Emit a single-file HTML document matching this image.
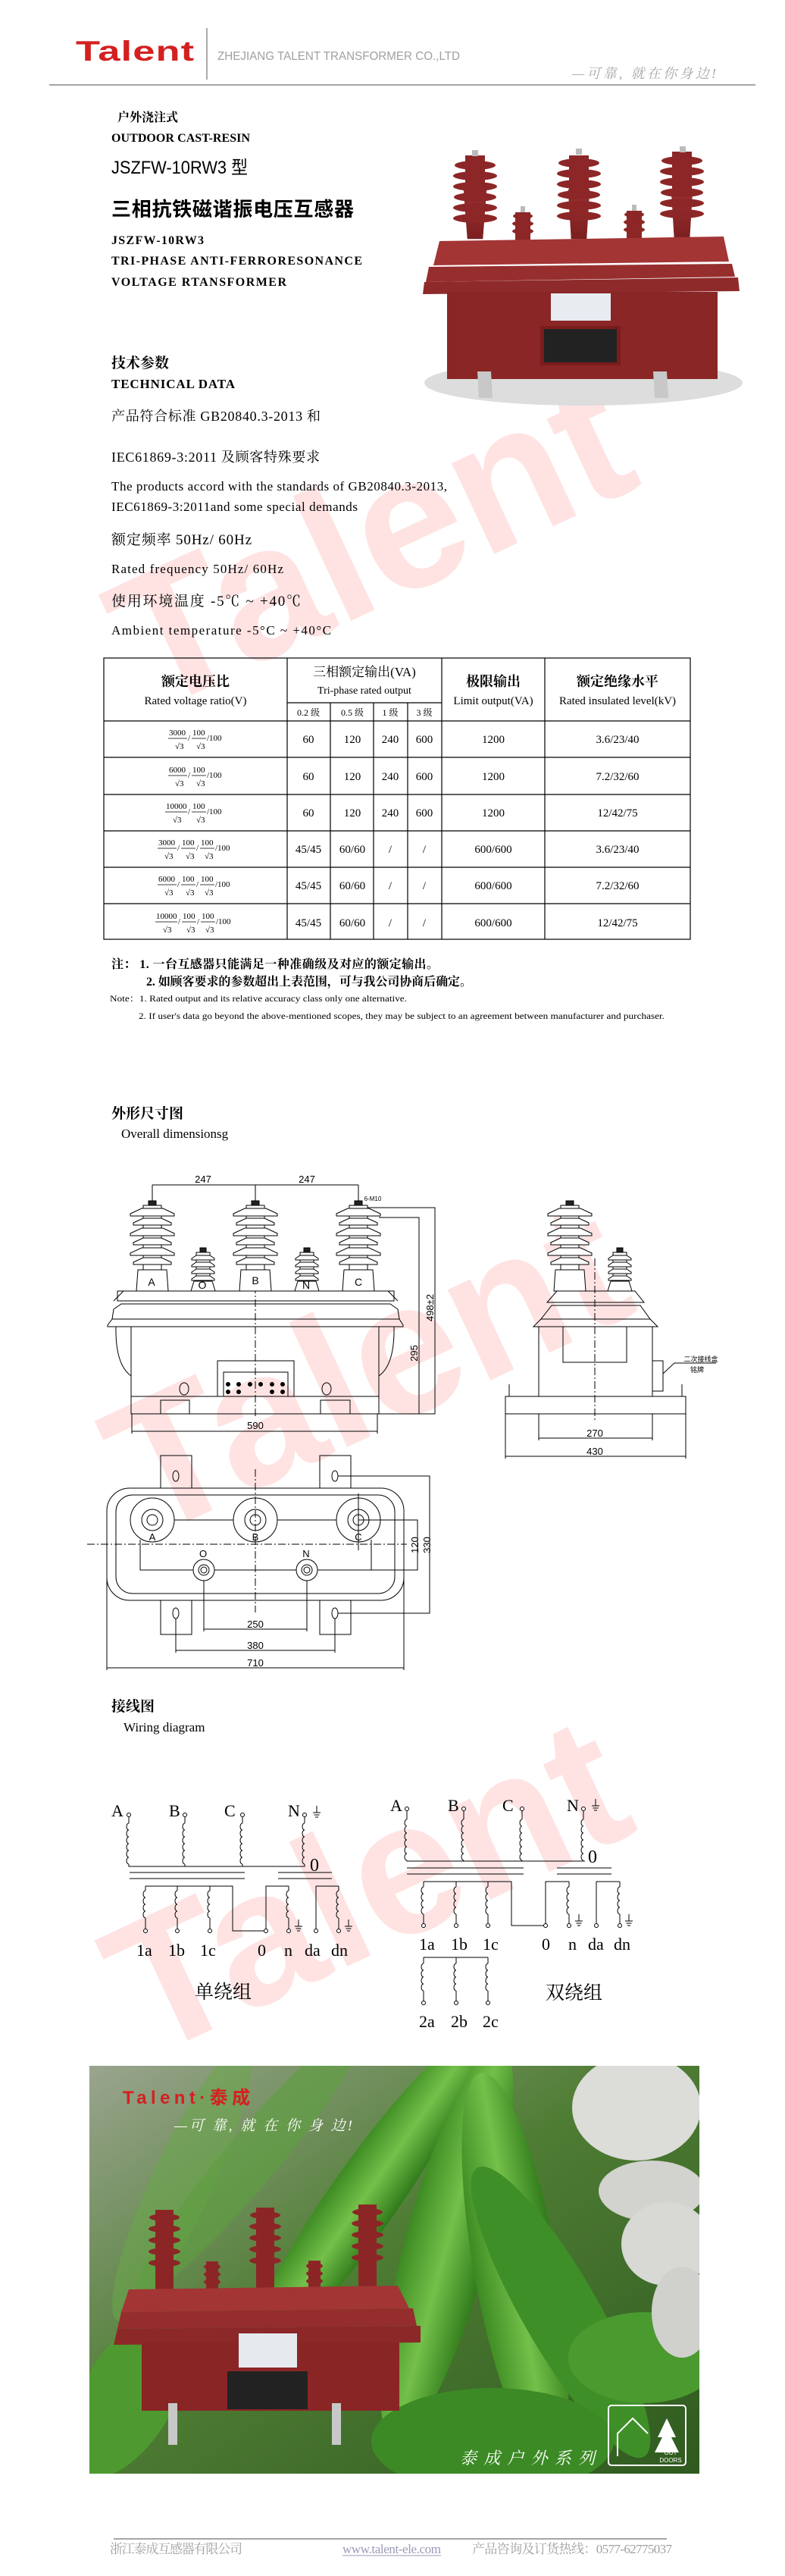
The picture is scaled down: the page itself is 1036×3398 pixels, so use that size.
<!DOCTYPE html>
<html><head><meta charset="utf-8"><style>
html,body{margin:0;padding:0;background:#fff;}
body{width:1036px;height:3398px;position:relative;overflow:hidden;}
svg{position:absolute;left:0;top:0;}
</style></head><body>
<svg width="1036" height="3398" viewBox="0 0 1036 3398" xmlns="http://www.w3.org/2000/svg" font-family="Liberation Serif, Noto Serif CJK SC, serif">
<defs>
  <g id="tins" fill="#fff" stroke="#000" stroke-width="1">
    <rect x="-5" y="-6" width="10" height="6" fill="#222"/>
    <rect x="-12" y="0" width="24" height="85"/>
    <polygon points="-14,4 14,4 29,11 29,14 -29,14 -29,11"/>
    <polygon points="-12,17 12,17 25,23 25,26 -25,26 -25,23"/>
    <polygon points="-14,30 14,30 29,37 29,40 -29,40 -29,37"/>
    <polygon points="-12,43 12,43 25,49 25,52 -25,52 -25,49"/>
    <polygon points="-14,56 14,56 29,63 29,66 -29,66 -29,63"/>
    <polygon points="-12,69 12,69 25,75 25,78 -25,78 -25,75"/>
    <polygon points="-19,85 19,85 21,113 -21,113"/>
  </g>
  <g id="sins" fill="#fff" stroke="#000" stroke-width="1">
    <rect x="-4" y="-6" width="8" height="6" fill="#222"/>
    <rect x="-9" y="0" width="18" height="38"/>
    <polygon points="-9,4 9,4 15,8 15,10 -15,10 -15,8"/>
    <polygon points="-9,13 9,13 15,17 15,19 -15,19 -15,17"/>
    <polygon points="-9,22 9,22 15,26 15,28 -15,28 -15,26"/>
    <polygon points="-9,31 9,31 15,35 15,37 -15,37 -15,35"/>
    <polygon points="-12,38 12,38 16,51 -16,51"/>
  </g>
  <path id="coil6" fill="none" stroke="#000" stroke-width="1" d="M0,0 a3,4.5 0 0 0 0,9 a3,4.5 0 0 0 0,9 a3,4.5 0 0 0 0,9 a3,4.5 0 0 0 0,9 a3,4.5 0 0 0 0,9 a3,4.5 0 0 0 0,9"/>
  <path id="coil4" fill="none" stroke="#000" stroke-width="1" d="M0,0 a3,4.5 0 0 0 0,9 a3,4.5 0 0 0 0,9 a3,4.5 0 0 0 0,9 a3,4.5 0 0 0 0,9"/>
  <g id="gnd" stroke="#000" stroke-width="1"><line x1="0" y1="0" x2="0" y2="9"/><line x1="-5" y1="9" x2="5" y2="9"/><line x1="-3.5" y1="12" x2="3.5" y2="12"/><line x1="-2" y1="15" x2="2" y2="15"/></g>
  <linearGradient id="pg" x1="0" y1="0" x2="1" y2="1">
    <stop offset="0" stop-color="#9aa58e"/><stop offset=".45" stop-color="#4f7d34"/><stop offset="1" stop-color="#2f5a1f"/>
  </linearGradient>
  <linearGradient id="leaf" x1="0" y1="0" x2="1" y2="0">
    <stop offset="0" stop-color="#3c8a22"/><stop offset=".5" stop-color="#74c04a"/><stop offset="1" stop-color="#2f7a1a"/>
  </linearGradient>
  <linearGradient id="red" x1="0" y1="0" x2="0" y2="1">
    <stop offset="0" stop-color="#9a3030"/><stop offset="1" stop-color="#7c1f1f"/>
  </linearGradient>
  <clipPath id="pc"><rect x="118" y="2725" width="805" height="538"/></clipPath>
</defs>

<!-- watermarks -->
<g fill="#ffe3e3" font-family="Liberation Sans, sans-serif" font-weight="bold" font-size="250" text-anchor="middle">
  <text transform="translate(525,790) rotate(-25)">Talent</text>
  <text transform="translate(520,1880) rotate(-25)">Talent</text>
  <text transform="translate(520,2565) rotate(-25)">Talent</text>
</g>

<!-- header -->
<text x="100" y="80" fill="#d42020" font-family="Liberation Sans, sans-serif" font-weight="bold" font-size="37" transform="translate(100,0) scale(1.42,1) translate(-100,0)" textLength="110">Talent</text>
<line x1="273" y1="37" x2="273" y2="105" stroke="#555" stroke-width="1"/>
<text x="287" y="79" fill="#a0a0a0" font-family="Liberation Sans, sans-serif" font-size="16" textLength="320" lengthAdjust="spacingAndGlyphs">ZHEJIANG TALENT TRANSFORMER CO.,LTD</text>
<text x="755" y="103" fill="#a8a8a8" font-family="Liberation Serif, Noto Serif CJK SC, serif" font-style="italic" font-size="18" textLength="190">—可靠, 就在你身边!</text>
<line x1="65" y1="112" x2="997" y2="112" stroke="#888" stroke-width="1.5"/>

<!-- intro texts -->
<g fill="#000">
<text x="155" y="160" font-size="16" font-weight="bold">户外浇注式</text>
<text x="147" y="187" font-size="16" font-weight="bold" textLength="183">OUTDOOR CAST-RESIN</text>
<text x="147" y="229" font-size="24" font-family="Liberation Sans, Noto Sans CJK SC, sans-serif" textLength="180" lengthAdjust="spacingAndGlyphs">JSZFW-10RW3 型</text>
<text x="147" y="285" font-size="26" font-weight="bold" font-family="Liberation Sans, Noto Sans CJK SC, sans-serif" textLength="320">三相抗铁磁谐振电压互感器</text>
<text x="147" y="322" font-size="16" font-weight="bold" textLength="122">JSZFW-10RW3</text>
<text x="147" y="349" font-size="16" font-weight="bold" textLength="331">TRI-PHASE ANTI-FERRORESONANCE</text>
<text x="147" y="377" font-size="16" font-weight="bold" textLength="231">VOLTAGE RTANSFORMER</text>
<text x="147" y="485" font-size="19" font-weight="bold">技术参数</text>
<text x="147" y="512" font-size="17" font-weight="bold" textLength="163">TECHNICAL DATA</text>
<text x="147" y="555" font-size="18" textLength="276">产品符合标准 GB20840.3-2013 和</text>
<text x="147" y="609" font-size="18" textLength="275">IEC61869-3:2011 及顾客特殊要求</text>
<text x="147" y="647" font-size="17" textLength="443">The products accord with the standards of GB20840.3-2013,</text>
<text x="147" y="674" font-size="17" textLength="325">IEC61869-3:2011and some special demands</text>
<text x="147" y="718" font-size="19" textLength="185">额定频率 50Hz/ 60Hz</text>
<text x="147" y="756" font-size="17" textLength="227">Rated frequency    50Hz/ 60Hz</text>
<text x="147" y="799" font-size="19" textLength="250">使用环境温度 -5℃ ~  +40℃</text>
<text x="147" y="837" font-size="17" textLength="290">Ambient temperature    -5°C  ~  +40°C</text>
</g>

<!-- top product image -->
<g>
  <ellipse cx="770" cy="505" rx="210" ry="30" fill="#ddd"/>
  <g fill="url(#red)" stroke="#6a1818" stroke-width="0.5">
    <polygon points="617,315 612,250 642,250 637,315"/>
    <polygon points="754,315 750,250 778,250 774,315"/>
    <polygon points="890,315 886,250 914,250 910,315"/>
  </g>
  <g fill="#8d2727">
    <rect x="614" y="205" width="26" height="50"/><rect x="751" y="205" width="26" height="50"/><rect x="887" y="200" width="26" height="55"/>
    <ellipse cx="627" cy="218" rx="27" ry="6"/><ellipse cx="627" cy="232" rx="29" ry="6"/><ellipse cx="627" cy="246" rx="29" ry="6"/><ellipse cx="627" cy="260" rx="28" ry="6"/><ellipse cx="627" cy="274" rx="29" ry="6"/><ellipse cx="627" cy="288" rx="29" ry="6"/>
    <ellipse cx="764" cy="215" rx="27" ry="6"/><ellipse cx="764" cy="229" rx="29" ry="6"/><ellipse cx="764" cy="243" rx="29" ry="6"/><ellipse cx="764" cy="257" rx="28" ry="6"/><ellipse cx="764" cy="271" rx="29" ry="6"/><ellipse cx="764" cy="285" rx="29" ry="6"/>
    <ellipse cx="900" cy="212" rx="27" ry="6"/><ellipse cx="900" cy="226" rx="29" ry="6"/><ellipse cx="900" cy="240" rx="29" ry="6"/><ellipse cx="900" cy="254" rx="28" ry="6"/><ellipse cx="900" cy="268" rx="29" ry="6"/><ellipse cx="900" cy="282" rx="29" ry="6"/>
    <rect x="680" y="280" width="20" height="50"/><ellipse cx="690" cy="285" rx="13" ry="4"/><ellipse cx="690" cy="295" rx="14" ry="4"/><ellipse cx="690" cy="305" rx="14" ry="4"/>
    <rect x="827" y="278" width="20" height="52"/><ellipse cx="837" cy="283" rx="13" ry="4"/><ellipse cx="837" cy="293" rx="14" ry="4"/><ellipse cx="837" cy="303" rx="14" ry="4"/>
  </g>
  <g fill="#bbb"><rect x="623" y="198" width="8" height="8"/><rect x="760" y="196" width="8" height="8"/><rect x="897" y="193" width="8" height="8"/><rect x="687" y="272" width="6" height="8"/><rect x="834" y="270" width="6" height="8"/></g>
  <polygon points="580,318 955,312 962,345 572,350" fill="#a33535"/>
  <polygon points="566,352 966,348 970,365 562,372" fill="#972e2e"/>
  <polygon points="560,372 974,366 976,384 558,388" fill="#8f2a2a"/>
  <rect x="590" y="385" width="357" height="115" fill="#8a2626"/>
  <rect x="727" y="387" width="79" height="36" fill="#e8ecf0"/>
  <rect x="713" y="430" width="106" height="52" fill="#7a1c1c"/>
  <rect x="718" y="434" width="96" height="44" fill="#222"/>
  <g fill="#c8c8c8"><polygon points="630,490 648,490 650,525 632,525"/><polygon points="862,490 880,490 882,525 864,525"/></g>
</g>

<!-- table -->
<g stroke="#000" stroke-width="1.2" fill="none">
  <rect x="137" y="868" width="774" height="371"/>
  <line x1="379" y1="868" x2="379" y2="1239"/>
  <line x1="583" y1="868" x2="583" y2="1239"/>
  <line x1="719" y1="868" x2="719" y2="1239"/>
  <line x1="379" y1="927" x2="583" y2="927"/>
  <line x1="436" y1="927" x2="436" y2="1239"/>
  <line x1="493" y1="927" x2="493" y2="1239"/>
  <line x1="538" y1="927" x2="538" y2="1239"/>
  <line x1="137" y1="951" x2="911" y2="951"/>
  <line x1="137" y1="999" x2="911" y2="999"/>
  <line x1="137" y1="1048" x2="911" y2="1048"/>
  <line x1="137" y1="1096" x2="911" y2="1096"/>
  <line x1="137" y1="1144" x2="911" y2="1144"/>
  <line x1="137" y1="1192" x2="911" y2="1192"/>
</g>
<g fill="#000" text-anchor="middle">
  <text x="258" y="905" font-size="18" font-weight="bold">额定电压比</text>
  <text x="258" y="929" font-size="15">Rated voltage ratio(V)</text>
  <text x="481" y="892" font-size="17">三相额定输出(VA)</text>
  <text x="481" y="915" font-size="14">Tri-phase rated output</text>
  <text x="651" y="905" font-size="18" font-weight="bold">极限输出</text>
  <text x="651" y="929" font-size="15">Limit output(VA)</text>
  <text x="815" y="905" font-size="18" font-weight="bold">额定绝缘水平</text>
  <text x="815" y="929" font-size="15">Rated insulated level(kV)</text>
  <g font-size="12"><text x="407" y="944">0.2 级</text><text x="465" y="944">0.5 级</text><text x="515" y="944">1 级</text><text x="560" y="944">3 级</text></g>
  <g font-size="15">
    <text x="407" y="980">60</text><text x="465" y="980">120</text><text x="515" y="980">240</text><text x="560" y="980">600</text><text x="651" y="980">1200</text><text x="815" y="980">3.6/23/40</text>
    <text x="407" y="1029">60</text><text x="465" y="1029">120</text><text x="515" y="1029">240</text><text x="560" y="1029">600</text><text x="651" y="1029">1200</text><text x="815" y="1029">7.2/32/60</text>
    <text x="407" y="1077">60</text><text x="465" y="1077">120</text><text x="515" y="1077">240</text><text x="560" y="1077">600</text><text x="651" y="1077">1200</text><text x="815" y="1077">12/42/75</text>
    <text x="407" y="1125">45/45</text><text x="465" y="1125">60/60</text><text x="515" y="1125">/</text><text x="560" y="1125">/</text><text x="651" y="1125">600/600</text><text x="815" y="1125">3.6/23/40</text>
    <text x="407" y="1173">45/45</text><text x="465" y="1173">60/60</text><text x="515" y="1173">/</text><text x="560" y="1173">/</text><text x="651" y="1173">600/600</text><text x="815" y="1173">7.2/32/60</text>
    <text x="407" y="1222">45/45</text><text x="465" y="1222">60/60</text><text x="515" y="1222">/</text><text x="560" y="1222">/</text><text x="651" y="1222">600/600</text><text x="815" y="1222">12/42/75</text>
  </g>
</g>
<!-- fractions -->
<g font-size="11" fill="#000" stroke-width="0.8">
  <g transform="translate(0,0)">
    <text x="223" y="970">3000</text><text x="231" y="988">√3</text><line x1="222" y1="974" x2="247" y2="974" stroke="#000"/><text x="248" y="977">/</text>
    <text x="254" y="970">100</text><text x="259" y="988">√3</text><line x1="253" y1="974" x2="272" y2="974" stroke="#000"/><text x="273" y="977">/100</text>
  </g>
  <g transform="translate(0,49)">
    <text x="223" y="970">6000</text><text x="231" y="988">√3</text><line x1="222" y1="974" x2="247" y2="974" stroke="#000"/><text x="248" y="977">/</text>
    <text x="254" y="970">100</text><text x="259" y="988">√3</text><line x1="253" y1="974" x2="272" y2="974" stroke="#000"/><text x="273" y="977">/100</text>
  </g>
  <g transform="translate(-3,97)">
    <text x="222" y="970">10000</text><text x="231" y="988">√3</text><line x1="221" y1="974" x2="250" y2="974" stroke="#000"/><text x="251" y="977">/</text>
    <text x="257" y="970">100</text><text x="262" y="988">√3</text><line x1="256" y1="974" x2="275" y2="974" stroke="#000"/><text x="276" y="977">/100</text>
  </g>
  <g transform="translate(-14,145)">
    <text x="223" y="970">3000</text><text x="231" y="988">√3</text><line x1="222" y1="974" x2="247" y2="974" stroke="#000"/><text x="248" y="977">/</text>
    <text x="254" y="970">100</text><text x="259" y="988">√3</text><line x1="253" y1="974" x2="272" y2="974" stroke="#000"/><text x="273" y="977">/</text>
    <text x="279" y="970">100</text><text x="284" y="988">√3</text><line x1="278" y1="974" x2="297" y2="974" stroke="#000"/><text x="298" y="977">/100</text>
  </g>
  <g transform="translate(-14,193)">
    <text x="223" y="970">6000</text><text x="231" y="988">√3</text><line x1="222" y1="974" x2="247" y2="974" stroke="#000"/><text x="248" y="977">/</text>
    <text x="254" y="970">100</text><text x="259" y="988">√3</text><line x1="253" y1="974" x2="272" y2="974" stroke="#000"/><text x="273" y="977">/</text>
    <text x="279" y="970">100</text><text x="284" y="988">√3</text><line x1="278" y1="974" x2="297" y2="974" stroke="#000"/><text x="298" y="977">/100</text>
  </g>
  <g transform="translate(-16,242)">
    <text x="222" y="970">10000</text><text x="231" y="988">√3</text><line x1="221" y1="974" x2="250" y2="974" stroke="#000"/><text x="251" y="977">/</text>
    <text x="257" y="970">100</text><text x="262" y="988">√3</text><line x1="256" y1="974" x2="275" y2="974" stroke="#000"/><text x="276" y="977">/</text>
    <text x="282" y="970">100</text><text x="287" y="988">√3</text><line x1="281" y1="974" x2="300" y2="974" stroke="#000"/><text x="301" y="977">/100</text>
  </g>
</g>

<!-- notes -->
<g fill="#000">
<text x="147" y="1277" font-size="16" font-weight="bold" textLength="432">注：  1. 一台互感器只能满足一种准确级及对应的额定输出。</text>
<text x="193" y="1300" font-size="16" font-weight="bold" textLength="430">2. 如顾客要求的参数超出上表范围，可与我公司协商后确定。</text>
<text x="145" y="1321" font-size="12" textLength="392" lengthAdjust="spacingAndGlyphs">Note：1. Rated output and its relative accuracy class only one alternative.</text>
<text x="183" y="1344" font-size="12" textLength="694" lengthAdjust="spacingAndGlyphs">2. If user's data go beyond the above-mentioned scopes, they may be subject to an agreement between manufacturer and purchaser.</text>
<text x="147" y="1475" font-size="19" font-weight="bold">外形尺寸图</text>
<text x="160" y="1501" font-size="17">Overall dimensionsg</text>
<text x="147" y="2257" font-size="19" font-weight="bold">接线图</text>
<text x="163" y="2284" font-size="17">Wiring diagram</text>
</g>

<!-- front view drawing -->
<g stroke="#000" stroke-width="1" fill="none">
  <line x1="201" y1="1563" x2="473" y2="1563"/>
  <line x1="201" y1="1563" x2="201" y2="1584"/><line x1="337" y1="1563" x2="337" y2="1584"/><line x1="473" y1="1563" x2="473" y2="1584"/>
  <path d="M155,1703 L520,1703 L520,1716 L155,1716 Z"/>
  <path d="M163,1703 L150,1716 M512,1703 L525,1716"/>
  <path d="M160,1720 L515,1720 L525,1727 L527,1740 L148,1740 L150,1727 Z"/>
  <path d="M148,1740 L527,1740 L532,1748 L532,1750 L142,1750 L142,1748 Z"/>
  <rect x="173" y="1750" width="327" height="92"/>
  <path d="M153,1750 Q152,1800 173,1815 M520,1750 Q521,1800 500,1815"/>
  <rect x="287" y="1795" width="101" height="47"/>
  <rect x="295" y="1810" width="85" height="32"/>
  <g fill="#000"><circle cx="301" cy="1826" r="2.5"/><circle cx="315" cy="1826" r="2.5"/><circle cx="330" cy="1826" r="2.5"/><circle cx="344" cy="1826" r="2.5"/><circle cx="359" cy="1826" r="2.5"/><circle cx="373" cy="1826" r="2.5"/><circle cx="301" cy="1836" r="2.5"/><circle cx="315" cy="1836" r="2.5"/><circle cx="359" cy="1836" r="2.5"/><circle cx="373" cy="1836" r="2.5"/></g>
  <ellipse cx="243" cy="1832" rx="6" ry="8"/><ellipse cx="431" cy="1832" rx="6" ry="8"/>
  <rect x="173" y="1842" width="327" height="23"/>
  <path d="M212,1865 V1847 H250 V1865 M423,1865 V1847 H462 V1865"/>
  <line x1="337" y1="1570" x2="337" y2="1870" stroke-dasharray="10,3,2,3"/>
  <line x1="174" y1="1888" x2="498" y2="1888"/><line x1="174" y1="1865" x2="174" y2="1891"/><line x1="498" y1="1865" x2="498" y2="1891"/>
  <path d="M478,1593 H574 V1865 H500"/>
  <path d="M500,1606 H553 V1865"/>
</g>
<use href="#tins" transform="translate(201,1590)"/>
<use href="#tins" transform="translate(337,1590)"/>
<use href="#tins" transform="translate(473,1590)"/>
<use href="#sins" transform="translate(268,1652)"/>
<use href="#sins" transform="translate(405,1652)"/>
<g font-size="14" font-family="Liberation Sans, sans-serif" fill="#000" text-anchor="middle">
  <text x="200" y="1593" dx="0" dy="-33" font-size="0"> </text>
  <text x="200" y="1696">A</text><text x="267" y="1700">O</text><text x="337" y="1694">B</text><text x="404" y="1700">N</text><text x="473" y="1696">C</text>
  <text x="268" y="1560" font-size="13">247</text><text x="405" y="1560" font-size="13">247</text>
  <text x="337" y="1885" font-size="13">590</text>
  <text x="492" y="1584" font-size="8">6-M10</text>
  <text transform="translate(572,1725) rotate(-90)" font-size="13">498±2</text>
  <text transform="translate(551,1785) rotate(-90)" font-size="13">295</text>
</g>

<!-- side view -->
<use href="#tins" transform="translate(752,1590)"/>
<use href="#sins" transform="translate(818,1652)"/>
<g stroke="#000" stroke-width="1" fill="none">
  <path d="M735,1703 L838,1703 L850,1718 L722,1718 Z"/>
  <path d="M728,1722 L845,1722 L858,1740 L714,1740 Z"/>
  <path d="M714,1740 L858,1740 L868,1750 L704,1750 Z"/>
  <rect x="711" y="1750" width="150" height="92"/>
  <rect x="743" y="1750" width="84" height="47"/>
  <rect x="861" y="1795" width="14" height="40"/>
  <line x1="785" y1="1660" x2="785" y2="1875" stroke-dasharray="10,3,2,3"/>
  <rect x="667" y="1842" width="238" height="23"/>
  <path d="M672,1842 V1826 M900,1842 V1826"/>
  <path d="M875,1812 L890,1798 H945"/>
  <line x1="711" y1="1897" x2="861" y2="1897"/><line x1="711" y1="1865" x2="711" y2="1900"/><line x1="861" y1="1865" x2="861" y2="1900"/>
  <line x1="667" y1="1921" x2="905" y2="1921"/><line x1="667" y1="1865" x2="667" y2="1924"/><line x1="905" y1="1865" x2="905" y2="1924"/>
</g>
<g font-size="13" font-family="Liberation Sans, sans-serif" fill="#000" text-anchor="middle">
  <text x="785" y="1895">270</text><text x="785" y="1919">430</text>
  <text x="925" y="1796" font-size="9">二次接线盒</text><text x="920" y="1810" font-size="9">铭牌</text>
</g>

<!-- top view -->
<g stroke="#000" stroke-width="1" fill="none">
  <rect x="212" y="1920" width="41" height="43"/><rect x="422" y="1920" width="41" height="43"/>
  <rect x="212" y="2111" width="41" height="45"/><rect x="422" y="2111" width="41" height="45"/>
  <ellipse cx="232" cy="1947" rx="4" ry="7"/><ellipse cx="442" cy="1947" rx="4" ry="7"/>
  <ellipse cx="232" cy="2128" rx="4" ry="7"/><ellipse cx="442" cy="2128" rx="4" ry="7"/>
  <rect x="141" y="1963" width="392" height="148" rx="30"/>
  <rect x="153" y="1972" width="368" height="130" rx="22"/>
  <circle cx="201" cy="2005" r="29"/><circle cx="201" cy="2005" r="14"/><circle cx="201" cy="2005" r="7"/>
  <circle cx="337" cy="2005" r="29"/><circle cx="337" cy="2005" r="14"/><circle cx="337" cy="2005" r="7"/>
  <circle cx="473" cy="2005" r="29"/><circle cx="473" cy="2005" r="14"/><circle cx="473" cy="2005" r="7"/>
  <circle cx="269" cy="2071" r="14"/><circle cx="269" cy="2071" r="7"/><circle cx="269" cy="2071" r="4"/>
  <circle cx="405" cy="2071" r="14"/><circle cx="405" cy="2071" r="7"/><circle cx="405" cy="2071" r="4"/>
  <path d="M230,2005 H308 M366,2005 H444"/>
  <path d="M185,2031 V2071 H255 M283,2071 H391 M419,2071 H551 V2005 H473 M490,2031 V2071"/>
  <line x1="115" y1="2037" x2="537" y2="2037" stroke-dasharray="10,3,2,3"/>
  <line x1="337" y1="1938" x2="337" y2="2127" stroke-dasharray="10,3,2,3"/>
  <line x1="473" y1="1970" x2="473" y2="2045"/>
  <path d="M446,1947 H567 V2128 H446"/>
  <path d="M269,2085 V2152 M405,2085 V2152"/><line x1="269" y1="2149" x2="405" y2="2149"/>
  <path d="M232,2135 V2180 M442,2135 V2180"/><line x1="232" y1="2177" x2="442" y2="2177"/>
  <path d="M141,2037 V2203 M533,2037 V2203"/><line x1="141" y1="2200" x2="533" y2="2200"/>
</g>
<g font-size="13" font-family="Liberation Sans, sans-serif" fill="#000" text-anchor="middle">
  <text x="201" y="2032">A</text><text x="337" y="2032">B</text><text x="473" y="2032">C</text>
  <text x="268" y="2054">O</text><text x="404" y="2054">N</text>
  <text x="337" y="2147">250</text><text x="337" y="2175">380</text><text x="337" y="2198">710</text>
  <text transform="translate(552,2038) rotate(-90)">120</text>
  <text transform="translate(568,2038) rotate(-90)">330</text>
</g>

<!-- wiring left -->
<g stroke="#000" stroke-width="1" fill="none">
  <path d="M170,2397 V2405 M244,2397 V2405 M320,2397 V2405 M402,2397 V2405"/>
  <use href="#coil6" transform="translate(170,2405)"/><use href="#coil6" transform="translate(244,2405)"/><use href="#coil6" transform="translate(320,2405)"/><use href="#coil6" transform="translate(402,2405)"/>
  <path d="M170,2459 V2462 H402 V2459 M244,2459 V2462 M320,2459 V2462"/>
  <path d="M171,2470 H323 M171,2478 H323 M367,2470 H438 M367,2478 H438"/>
  <path d="M192,2488 H307 V2547 H351 V2488 H381 M417,2488 H447 M417,2488 V2544"/>
  <path d="M192,2488 V2494 M234,2488 V2494 M277,2488 V2494 M381,2488 V2494 M447,2488 V2494"/>
  <use href="#coil4" transform="translate(192,2494)"/><use href="#coil4" transform="translate(234,2494)"/><use href="#coil4" transform="translate(277,2494)"/><use href="#coil4" transform="translate(381,2494)"/><use href="#coil4" transform="translate(447,2494)"/>
  <path d="M192,2530 V2544 M234,2530 V2544 M277,2530 V2544 M381,2530 V2544 M447,2530 V2544"/>
  <g fill="#fff"><circle cx="170" cy="2394" r="2.5"/><circle cx="244" cy="2394" r="2.5"/><circle cx="320" cy="2394" r="2.5"/><circle cx="402" cy="2394" r="2.5"/>
  <circle cx="192" cy="2547" r="2.5"/><circle cx="234" cy="2547" r="2.5"/><circle cx="277" cy="2547" r="2.5"/><circle cx="351" cy="2547" r="2.5"/><circle cx="381" cy="2547" r="2.5"/><circle cx="417" cy="2547" r="2.5"/><circle cx="447" cy="2547" r="2.5"/></g>
</g>
<use href="#gnd" transform="translate(418,2382)"/><use href="#gnd" transform="translate(394,2532)"/><use href="#gnd" transform="translate(460,2532)"/>
<g font-size="22" fill="#000">
  <text x="147" y="2396">A</text><text x="223" y="2396">B</text><text x="296" y="2396">C</text><text x="380" y="2396">N</text>
  <text x="409" y="2468" font-size="24">0</text>
  <text x="180" y="2580">1a</text><text x="222" y="2580">1b</text><text x="264" y="2580">1c</text><text x="340" y="2580">0</text><text x="375" y="2580">n</text><text x="402" y="2580">da</text><text x="437" y="2580">dn</text>
  <text x="257" y="2636" font-size="25">单绕组</text>
</g>

<!-- wiring right -->
<g stroke="#000" stroke-width="1" fill="none">
  <path d="M537,2389 V2400 M612,2389 V2400 M689,2389 V2400 M770,2389 V2400"/>
  <use href="#coil6" transform="translate(537,2400)"/><use href="#coil6" transform="translate(612,2400)"/><use href="#coil6" transform="translate(689,2400)"/><use href="#coil6" transform="translate(770,2400)"/>
  <path d="M537,2454 V2455 H772 M612,2454 V2455 M689,2454 V2455"/>
  <path d="M537,2464 H691 M537,2472 H691 M735,2464 H807 M735,2472 H807"/>
  <path d="M559,2482 H675 V2540 H720 V2482 H751 M787,2482 H818 M787,2482 V2537"/>
  <path d="M559,2482 V2489 M602,2482 V2489 M644,2482 V2489 M751,2482 V2489 M818,2482 V2489"/>
  <use href="#coil4" transform="translate(559,2489)"/><use href="#coil4" transform="translate(602,2489)"/><use href="#coil4" transform="translate(644,2489)"/><use href="#coil4" transform="translate(751,2489)"/><use href="#coil4" transform="translate(818,2489)"/>
  <path d="M559,2525 V2537 M602,2525 V2537 M644,2525 V2537 M751,2525 V2537 M818,2525 V2537"/>
  <path d="M559,2582 H644 M559,2582 V2590 M602,2582 V2590 M644,2582 V2590"/>
  <use href="#coil4" transform="translate(559,2590)"/><use href="#coil4" transform="translate(602,2590)"/><use href="#coil4" transform="translate(644,2590)"/>
  <path d="M559,2626 V2639 M602,2626 V2639 M644,2626 V2639"/>
  <g fill="#fff"><circle cx="537" cy="2386" r="2.5"/><circle cx="612" cy="2386" r="2.5"/><circle cx="689" cy="2386" r="2.5"/><circle cx="770" cy="2386" r="2.5"/>
  <circle cx="559" cy="2540" r="2.5"/><circle cx="602" cy="2540" r="2.5"/><circle cx="644" cy="2540" r="2.5"/><circle cx="720" cy="2540" r="2.5"/><circle cx="751" cy="2540" r="2.5"/><circle cx="787" cy="2540" r="2.5"/><circle cx="818" cy="2540" r="2.5"/>
  <circle cx="559" cy="2642" r="2.5"/><circle cx="602" cy="2642" r="2.5"/><circle cx="644" cy="2642" r="2.5"/></g>
</g>
<use href="#gnd" transform="translate(786,2373)"/><use href="#gnd" transform="translate(764,2525)"/><use href="#gnd" transform="translate(830,2525)"/>
<g font-size="22" fill="#000">
  <text x="515" y="2389">A</text><text x="591" y="2389">B</text><text x="663" y="2389">C</text><text x="748" y="2389">N</text>
  <text x="776" y="2457" font-size="24">0</text>
  <text x="553" y="2572">1a</text><text x="595" y="2572">1b</text><text x="637" y="2572">1c</text><text x="715" y="2572">0</text><text x="750" y="2572">n</text><text x="776" y="2572">da</text><text x="810" y="2572">dn</text>
  <text x="553" y="2674">2a</text><text x="595" y="2674">2b</text><text x="637" y="2674">2c</text>
  <text x="720" y="2637" font-size="25">双绕组</text>
</g>

<!-- photo -->
<g clip-path="url(#pc)">
  <rect x="118" y="2725" width="805" height="538" fill="url(#pg)"/>
  <ellipse cx="240" cy="2880" rx="40" ry="200" fill="#6aa84a" opacity=".55" transform="rotate(25 240 2880)"/>
  <ellipse cx="330" cy="2850" rx="35" ry="230" fill="#5ea040" opacity=".6" transform="rotate(40 330 2850)"/>
  <ellipse cx="480" cy="2900" rx="45" ry="260" fill="url(#leaf)" transform="rotate(35 480 2900)"/>
  <ellipse cx="590" cy="2960" rx="55" ry="270" fill="url(#leaf)" transform="rotate(15 590 2960)"/>
  <ellipse cx="680" cy="2990" rx="55" ry="260" fill="url(#leaf)" transform="rotate(-10 680 2990)"/>
  <ellipse cx="740" cy="3050" rx="50" ry="220" fill="#3f8f28" transform="rotate(-30 740 3050)"/>
  <ellipse cx="850" cy="3110" rx="100" ry="60" fill="#4a9a30"/>
  <ellipse cx="650" cy="3220" rx="160" ry="70" fill="#3c8a25"/>
  <ellipse cx="170" cy="3160" rx="60" ry="120" fill="#4e9a30" transform="rotate(30 170 3160)"/>
  <ellipse cx="840" cy="2780" rx="85" ry="70" fill="#dcdcd8"/>
  <ellipse cx="860" cy="2890" rx="70" ry="40" fill="#d2d2ce"/>
  <ellipse cx="880" cy="2960" rx="60" ry="55" fill="#d8d8d4"/>
  <ellipse cx="900" cy="3050" rx="40" ry="60" fill="#d0d0cc"/>
  <g fill="#8c2626">
    <rect x="205" y="2915" width="24" height="110"/><rect x="338" y="2912" width="24" height="113"/><rect x="473" y="2908" width="24" height="117"/>
    <ellipse cx="217" cy="2925" rx="20" ry="5"/><ellipse cx="217" cy="2940" rx="21" ry="5"/><ellipse cx="217" cy="2955" rx="21" ry="5"/><ellipse cx="217" cy="2970" rx="21" ry="5"/><ellipse cx="217" cy="2985" rx="21" ry="5"/>
    <ellipse cx="350" cy="2922" rx="20" ry="5"/><ellipse cx="350" cy="2937" rx="21" ry="5"/><ellipse cx="350" cy="2952" rx="21" ry="5"/><ellipse cx="350" cy="2967" rx="21" ry="5"/><ellipse cx="350" cy="2982" rx="21" ry="5"/>
    <ellipse cx="485" cy="2918" rx="20" ry="5"/><ellipse cx="485" cy="2933" rx="21" ry="5"/><ellipse cx="485" cy="2948" rx="21" ry="5"/><ellipse cx="485" cy="2963" rx="21" ry="5"/><ellipse cx="485" cy="2978" rx="21" ry="5"/>
    <rect x="272" y="2983" width="16" height="50"/><ellipse cx="280" cy="2990" rx="11" ry="4"/><ellipse cx="280" cy="3000" rx="11" ry="4"/><ellipse cx="280" cy="3010" rx="11" ry="4"/>
    <rect x="407" y="2982" width="16" height="50"/><ellipse cx="415" cy="2989" rx="11" ry="4"/><ellipse cx="415" cy="2999" rx="11" ry="4"/><ellipse cx="415" cy="3009" rx="11" ry="4"/>
  </g>
  <polygon points="170,3020 525,3015 540,3045 160,3050" fill="#a33535"/>
  <polygon points="160,3050 545,3045 550,3068 155,3072" fill="#952d2d"/>
  <polygon points="155,3072 555,3068 555,3090 150,3093" fill="#8c2828"/>
  <rect x="187" y="3090" width="340" height="90" fill="#8a2525"/>
  <rect x="315" y="3078" width="77" height="45" fill="#e6eaee"/>
  <rect x="300" y="3128" width="106" height="50" fill="#222"/>
  <g fill="#c8c8c8"><rect x="222" y="3170" width="12" height="55"/><rect x="438" y="3170" width="12" height="55"/></g>
  <text x="162" y="2775" fill="#d42020" font-family="Liberation Sans, Noto Sans CJK SC, sans-serif" font-weight="bold" font-size="24" textLength="168">Talent·泰成</text>
  <text x="230" y="2810" fill="#fff" font-size="19" font-style="italic" textLength="235">—可 靠, 就 在 你 身 边!</text>
  <text x="607" y="3250" fill="#fff" font-size="22" font-style="italic" textLength="178">泰 成 户 外 系 列</text>
  <rect x="803" y="3173" width="102" height="79" rx="4" fill="none" stroke="#fff" stroke-width="2"/>
  <path d="M815,3240 V3210 L835,3190 L855,3210" fill="none" stroke="#fff" stroke-width="2"/>
  <polygon points="880,3190 868,3215 874,3215 864,3235 896,3235 886,3215 892,3215" fill="#fff"/>
  <text x="885" y="3238" fill="#fff" font-family="Liberation Sans, sans-serif" font-size="8" text-anchor="middle">OUT</text>
  <text x="885" y="3248" fill="#fff" font-family="Liberation Sans, sans-serif" font-size="8" text-anchor="middle">DOORS</text>
</g>

<!-- footer -->
<line x1="150" y1="3349" x2="880" y2="3349" stroke="#888" stroke-width="1.5"/>
<g fill="#a0a0a0" font-size="17">
  <text x="145" y="3368" textLength="175">浙江泰成互感器有限公司</text>
  <text x="452" y="3368" textLength="130" fill="#9a9ab8">www.talent-ele.com</text>
  <line x1="452" y1="3371" x2="582" y2="3371" stroke="#9a9ab8"/>
  <text x="623" y="3368" textLength="264">产品咨询及订货热线：0577-62775037</text>
</g>
</svg>
</body></html>
